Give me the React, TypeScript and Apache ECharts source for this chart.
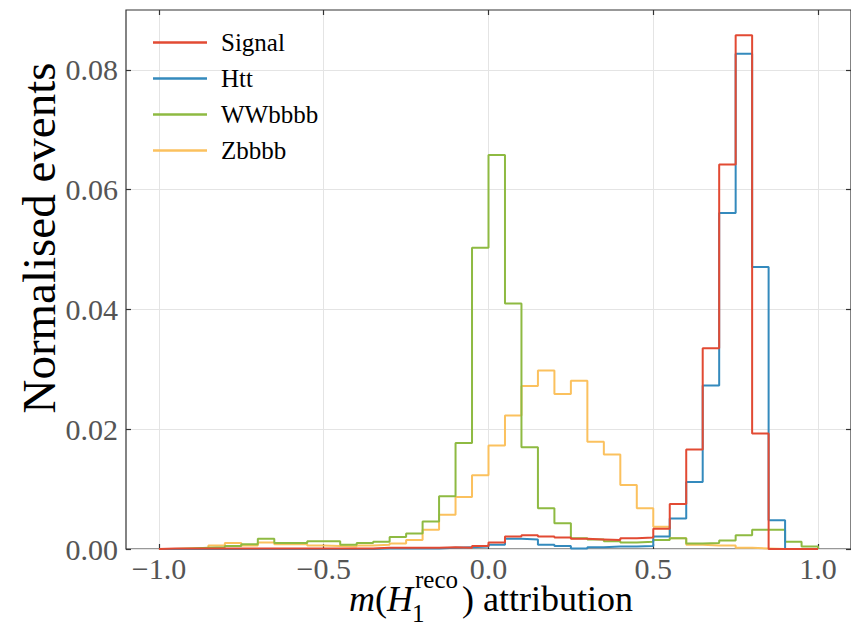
import React, { useEffect, useRef } from "react";
import * as echarts from "echarts";

// Bin edges (width 0.05 from -1 to 1)
const binEdges = [
  -1.0, -0.95, -0.9, -0.85, -0.8, -0.75, -0.7, -0.65, -0.6, -0.55,
  -0.5, -0.45, -0.4, -0.35, -0.3, -0.25, -0.2, -0.15, -0.1, -0.05,
  0.0, 0.05, 0.1, 0.15, 0.2, 0.25, 0.3, 0.35, 0.4, 0.45,
  0.5, 0.55, 0.6, 0.65, 0.7, 0.75, 0.8, 0.85, 0.9, 0.95, 1.0,
];

const signal = [
  0.0001, 0.0001, 0.0001, 0.0001, 0.0001, 0.0001, 0.0001, 0.0001, 0.0001, 0.0001,
  0.0001, 0.0001, 0.0001, 0.0002, 0.0002, 0.0002, 0.0002, 0.0003, 0.0002, 0.0005,
  0.0011, 0.0021, 0.0023, 0.0021, 0.0019, 0.0017, 0.0016, 0.0015, 0.0018, 0.0019,
  0.0034, 0.0075, 0.0166, 0.0335, 0.0642, 0.0858, 0.0193, 0.0, 0.0, 0.0,
];

const htt = [
  0.0, 0.0, 0.0, 0.0, 0.0, 0.0, 0.0, 0.0, 0.0, 0.0,
  0.0, 0.0, 0.0, 0.0001, 0.0001, 0.0001, 0.0001, 0.0002, 0.0003, 0.0004,
  0.0007, 0.0017, 0.0016, 0.0007, 0.0005, 0.0001, 0.0003, 0.0004, 0.0004, 0.0005,
  0.0021, 0.0051, 0.0112, 0.0273, 0.0561, 0.0827, 0.0471, 0.0048, 0.0, 0.0,
];

const wwbbbb = [
  0.0, 0.0001, 0.0002, 0.0003, 0.0005, 0.0008, 0.0017, 0.001, 0.001, 0.0013,
  0.0013, 0.0007, 0.001, 0.0012, 0.002, 0.0026, 0.0046, 0.0088, 0.0177, 0.0503,
  0.0658, 0.041, 0.017, 0.0068, 0.0043, 0.0018, 0.0016, 0.0013, 0.0011, 0.0012,
  0.0015, 0.0018, 0.0009, 0.001, 0.0014, 0.0023, 0.0032, 0.0032, 0.0012, 0.0004,
];

const zbbbb = [
  0.0, 0.0001, 0.0002, 0.0006, 0.001, 0.0006, 0.0011, 0.0008, 0.0008, 0.0006,
  0.0005, 0.0004, 0.0006, 0.0007, 0.0009, 0.0015, 0.0032, 0.0057, 0.0087, 0.0123,
  0.0173, 0.0223, 0.0272, 0.0298, 0.0259, 0.0281, 0.0179, 0.0158, 0.0107, 0.0068,
  0.0037, 0.0018, 0.0007, 0.0006, 0.0006, 0.0002, 0.0001, 0.0, 0.0, 0.0,
];

const xTicks = [-1.0, -0.5, 0.0, 0.5, 1.0];
const yTicks = [0.0, 0.02, 0.04, 0.06, 0.08];

const SERIF = "'Liberation Serif', 'Times New Roman', serif";

function stepData(vals: number[]): number[][] {
  const pts: number[][] = [[binEdges[0], 0]];
  vals.forEach((v, i) => pts.push([binEdges[i], v]));
  pts.push([binEdges[vals.length], vals[vals.length - 1]]);
  pts.push([binEdges[vals.length], 0]);
  return pts;
}

const fmtX = (v: number) => (v < 0 ? "\u2212" : "") + Math.abs(v).toFixed(1);
const fmtY = (v: number) => v.toFixed(2);

export default function App() {
  const ref = useRef<HTMLDivElement>(null);
  useEffect(() => {
    document.body.style.margin = "0";
    if (!ref.current) return;
    const chart = echarts.init(ref.current, undefined, { renderer: "svg" });
    const tickStyle = { color: "#333", width: 1.2 };
    const mk = (name: string, vals: number[], color: string) => ({
      name,
      type: "line",
      step: "end",
      data: stepData(vals),
      showSymbol: false,
      symbol: "none",
      color,
      lineStyle: { color, width: 2 },
      silent: true,
    });
    const hiddenLine = { show: false, onZero: false };
    chart.setOption({
      animation: false,
      backgroundColor: "#fff",
      grid: {
        left: 126,
        top: 10,
        width: 725,
        height: 539,
        show: true,
        borderColor: "#333",
        borderWidth: 1.2,
        backgroundColor: "transparent",
      },
      legend: {
        data: ["Signal", "Htt", "WWbbbb", "Zbbbb"],
        orient: "vertical",
        left: 148,
        top: 25,
        itemWidth: 54,
        itemHeight: 2.5,
        itemGap: 11,
        icon: "rect",
        selectedMode: false,
        textStyle: {
          fontFamily: SERIF,
          fontSize: 25,
          color: "#000",
          lineHeight: 25,
          padding: [0, 0, 0, 9],
        },
      },
      xAxis: [
        {
          type: "value",
          position: "bottom",
          min: -1.1,
          max: 1.1,
          axisLine: hiddenLine,
          axisTick: { show: true, inside: true, length: 5, lineStyle: tickStyle, customValues: xTicks },
          axisLabel: {
            customValues: xTicks,
            formatter: fmtX,
            fontFamily: SERIF,
            fontSize: 30,
            lineHeight: 28,
            color: "#555",
            margin: 5,
          },
          splitLine: { show: true, lineStyle: { color: "#e4e4e4", width: 1 } },
        },
        {
          type: "value",
          position: "top",
          min: -1.1,
          max: 1.1,
          axisLine: hiddenLine,
          axisTick: { show: true, inside: true, length: 5, lineStyle: tickStyle, customValues: xTicks },
          axisLabel: { show: false },
          splitLine: { show: false },
        },
      ],
      yAxis: [
        {
          type: "value",
          position: "left",
          min: 0,
          max: 0.09,
          axisLine: hiddenLine,
          axisTick: { show: true, inside: true, length: 5, lineStyle: tickStyle, customValues: yTicks },
          axisLabel: {
            customValues: yTicks,
            formatter: fmtY,
            fontFamily: SERIF,
            fontSize: 30,
            color: "#555",
            margin: 8,
          },
          splitLine: { show: true, lineStyle: { color: "#e4e4e4", width: 1 } },
        },
        {
          type: "value",
          position: "right",
          min: 0,
          max: 0.09,
          axisLine: hiddenLine,
          axisTick: { show: true, inside: true, length: 5, lineStyle: tickStyle, customValues: yTicks },
          axisLabel: { show: false },
          splitLine: { show: false },
        },
      ],
      series: [
        mk("Zbbbb", zbbbb, "#FBC15E"),
        mk("WWbbbb", wwbbbb, "#8EBA42"),
        mk("Htt", htt, "#348ABD"),
        mk("Signal", signal, "#E24A33"),
      ],
      graphic: [
        {
          type: "text",
          x: 39,
          y: 238,
          rotation: Math.PI / 2,
          style: {
            text: "Normalised events",
            fontFamily: SERIF,
            fontSize: 47,
            fill: "#000",
            align: "center",
            verticalAlign: "middle",
          },
        },
        {
          type: "text",
          x: 349,
          y: 599,
          style: {
            text: "{i|m}({i|H}",
            rich: { i: { fontStyle: "italic", fontFamily: SERIF, fontSize: 36, lineHeight: 26 } },
            fontFamily: SERIF,
            fontSize: 36,
            lineHeight: 26,
            fill: "#000",
            align: "left",
            verticalAlign: "middle",
          },
        },
        {
          type: "text",
          x: 415,
          y: 579,
          style: {
            text: "reco",
            fontFamily: SERIF,
            fontSize: 25,
            lineHeight: 18,
            fill: "#000",
            align: "left",
            verticalAlign: "middle",
          },
        },
        {
          type: "text",
          x: 412,
          y: 613,
          style: {
            text: "1",
            fontFamily: SERIF,
            fontSize: 25,
            lineHeight: 18,
            fill: "#000",
            align: "left",
            verticalAlign: "middle",
          },
        },
        {
          type: "text",
          x: 462,
          y: 599,
          style: {
            text: ") attribution",
            fontFamily: SERIF,
            fontSize: 36,
            lineHeight: 26,
            fill: "#000",
            align: "left",
            verticalAlign: "middle",
          },
        },
      ],
    });
    return () => chart.dispose();
  }, []);
  return <div ref={ref} style={{ width: 851, height: 631 }} />;
}
